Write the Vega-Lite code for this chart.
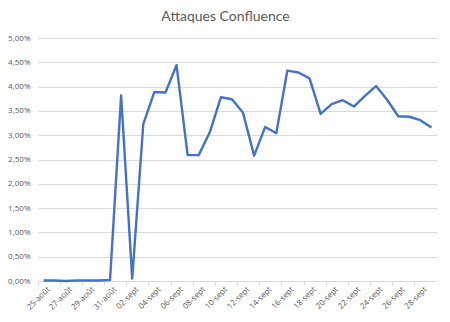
{
  "$schema": "https://vega.github.io/schema/vega-lite/v6.json",
  "width": 399,
  "height": 243,
  "autosize": {"type": "none"},
  "padding": {"left": 38, "top": 38, "right": 13, "bottom": 41},
  "background": "white",
  "title": {
    "text": "Attaques Confluence",
    "anchor": "middle",
    "frame": "group",
    "dx": -12,
    "offset": 10,
    "font": "Lato",
    "fontSize": 14,
    "fontWeight": "normal",
    "color": "#595959"
  },
  "data": {
    "values": [
      {"jour": "25-août", "taux": 0.0001},
      {"jour": "26-août", "taux": 0.0001},
      {"jour": "27-août", "taux": 0.0000},
      {"jour": "28-août", "taux": 0.0001},
      {"jour": "29-août", "taux": 0.0001},
      {"jour": "30-août", "taux": 0.0001},
      {"jour": "31-août", "taux": 0.0002},
      {"jour": "01-sept", "taux": 0.0382},
      {"jour": "02-sept", "taux": 0.0005},
      {"jour": "03-sept", "taux": 0.0323},
      {"jour": "04-sept", "taux": 0.0389},
      {"jour": "05-sept", "taux": 0.0388},
      {"jour": "06-sept", "taux": 0.0444},
      {"jour": "07-sept", "taux": 0.0259},
      {"jour": "08-sept", "taux": 0.0259},
      {"jour": "09-sept", "taux": 0.0306},
      {"jour": "10-sept", "taux": 0.0378},
      {"jour": "11-sept", "taux": 0.0374},
      {"jour": "12-sept", "taux": 0.0346},
      {"jour": "13-sept", "taux": 0.0258},
      {"jour": "14-sept", "taux": 0.0317},
      {"jour": "15-sept", "taux": 0.0304},
      {"jour": "16-sept", "taux": 0.0433},
      {"jour": "17-sept", "taux": 0.0429},
      {"jour": "18-sept", "taux": 0.0417},
      {"jour": "19-sept", "taux": 0.0344},
      {"jour": "20-sept", "taux": 0.0364},
      {"jour": "21-sept", "taux": 0.0372},
      {"jour": "22-sept", "taux": 0.0359},
      {"jour": "23-sept", "taux": 0.0381},
      {"jour": "24-sept", "taux": 0.0401},
      {"jour": "25-sept", "taux": 0.0373},
      {"jour": "26-sept", "taux": 0.0339},
      {"jour": "27-sept", "taux": 0.0338},
      {"jour": "28-sept", "taux": 0.0331},
      {"jour": "29-sept", "taux": 0.0316}
    ]
  },
  "mark": {"type": "line", "color": "#4472C4", "strokeWidth": 2.4, "strokeJoin": "round"},
  "encoding": {
    "x": {
      "field": "jour",
      "type": "ordinal",
      "sort": null,
      "scale": {"type": "band", "paddingInner": 0, "paddingOuter": 0},
      "axis": {
        "title": null,
        "values": ["25-août", "27-août", "29-août", "31-août", "02-sept", "04-sept", "06-sept", "08-sept", "10-sept", "12-sept", "14-sept", "16-sept", "18-sept", "20-sept", "22-sept", "24-sept", "26-sept", "28-sept"],
        "bandPosition": 0,
        "labelOffset": 5.5,
        "labelAngle": -45,
        "labelAlign": "right",
        "labelBaseline": "middle",
        "labelFont": "Open Sans",
        "labelFontSize": 8,
        "labelColor": "#595959",
        "labelPadding": 3,
        "domainColor": "#d9d9d9",
        "tickColor": "#d9d9d9",
        "tickSize": 4,
        "grid": false
      }
    },
    "y": {
      "field": "taux",
      "type": "quantitative",
      "scale": {"domain": [0, 0.05], "nice": false},
      "axis": {
        "title": null,
        "values": [0, 0.005, 0.01, 0.015, 0.02, 0.025, 0.03, 0.035, 0.04, 0.045, 0.05],
        "labelExpr": "replace(format(datum.value, '.2%'), '.', ',')",
        "labelFont": "Open Sans",
        "labelFontSize": 8,
        "labelColor": "#595959",
        "labelPadding": 8,
        "domain": false,
        "ticks": false,
        "grid": true,
        "gridColor": "#d9d9d9",
        "gridWidth": 1
      }
    }
  },
  "config": {"view": {"stroke": null}}
}
